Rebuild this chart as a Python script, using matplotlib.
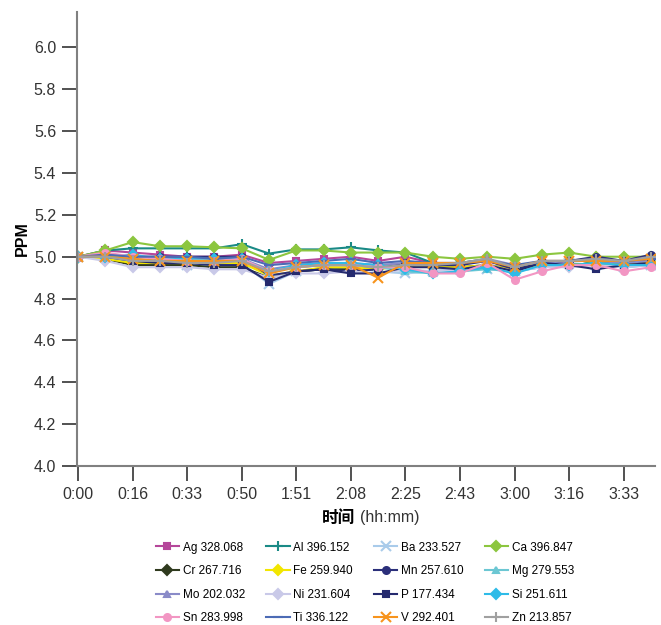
import matplotlib
matplotlib.use('Agg')
import matplotlib.pyplot as plt
import matplotlib.transforms as mtransforms

plt.rcParams['font.family'] = ['Liberation Sans', 'DejaVu Sans']

time_labels = ['0:00', '0:16', '0:33', '0:50', '1:51', '2:08', '2:25', '2:43',
               '3:00', '3:16', '3:33']

Ag = [5.00, 5.03, 5.02, 5.01, 5.00, 5.00, 5.01, 4.97, 4.98, 4.99, 5.00, 4.98,
      5.00, 4.97, 4.97, 4.98, 4.95, 4.97, 4.98, 4.98, 4.97, 4.98]
Al = [5.00, 5.03, 5.04, 5.04, 5.04, 5.04, 5.06, 5.015, 5.035, 5.035, 5.045, 5.03,
      5.02, 4.97, 4.97, 4.99, 4.94, 4.98, 4.95, 4.98, 4.97, 4.98]
Ba = [5.00, 5.00, 4.98, 4.97, 4.96, 4.96, 4.97, 4.87, 4.93, 4.94, 4.95, 4.93,
      4.92, 4.93, 4.95, 4.94, 4.93, 4.95, 4.97, 4.96, 4.95, 4.96]
Ca = [5.00, 5.03, 5.07, 5.05, 5.05, 5.045, 5.04, 4.985, 5.03, 5.03, 5.02, 5.02,
      5.02, 5.00, 4.99, 5.00, 4.99, 5.01, 5.02, 5.00, 5.00, 5.00]
Cr = [5.00, 4.99, 4.96, 4.96, 4.96, 4.95, 4.95, 4.90, 4.93, 4.94, 4.94, 4.95,
      4.96, 4.95, 4.95, 4.96, 4.94, 4.96, 4.96, 4.97, 4.96, 4.97]
Fe = [5.00, 4.99, 4.97, 4.97, 4.97, 4.97, 4.97, 4.91, 4.93, 4.95, 4.95, 4.94,
      4.96, 4.95, 4.95, 4.96, 4.94, 4.96, 4.96, 4.97, 4.96, 4.97]
Mn = [5.00, 5.01, 5.00, 5.00, 5.00, 5.00, 5.00, 4.91, 4.93, 4.94, 4.93, 4.94,
      4.97, 4.96, 4.96, 4.98, 4.94, 4.97, 4.98, 5.00, 4.98, 5.01]
Mg = [5.00, 5.00, 4.98, 4.98, 4.97, 4.98, 4.98, 4.93, 4.95, 4.96, 4.96, 4.95,
      4.93, 4.92, 4.93, 4.94, 4.93, 4.95, 4.96, 4.96, 4.95, 4.96]
Mo = [5.00, 5.00, 4.99, 4.98, 4.98, 4.98, 4.99, 4.94, 4.96, 4.97, 4.97, 4.96,
      4.97, 4.97, 4.97, 4.99, 4.96, 4.97, 4.98, 4.98, 4.97, 4.98]
Ni = [5.00, 4.98, 4.95, 4.95, 4.95, 4.94, 4.94, 4.90, 4.92, 4.92, 4.93, 4.92,
      4.94, 4.93, 4.94, 4.96, 4.93, 4.95, 4.95, 4.96, 4.95, 4.96]
P = [5.00, 5.00, 4.98, 4.97, 4.97, 4.96, 4.96, 4.88, 4.93, 4.94, 4.92, 4.92,
     4.95, 4.95, 4.94, 4.96, 4.93, 4.97, 4.96, 4.94, 4.96, 4.97]
Si = [5.00, 5.00, 5.01, 4.99, 4.99, 4.99, 4.99, 4.93, 4.96, 4.97, 4.97, 4.96,
      4.94, 4.92, 4.93, 4.95, 4.92, 4.96, 4.96, 4.97, 4.96, 4.96]
Sn = [5.00, 5.02, 5.00, 4.99, 4.98, 4.98, 4.99, 4.93, 4.95, 4.96, 4.96, 4.95,
      4.95, 4.92, 4.92, 4.97, 4.89, 4.93, 4.96, 4.96, 4.93, 4.95]
Ti = [5.00, 5.01, 5.00, 5.00, 5.00, 4.99, 5.00, 4.96, 4.97, 4.98, 4.99, 4.97,
      4.98, 4.97, 4.97, 4.98, 4.96, 4.98, 4.98, 4.99, 4.98, 4.99]
V = [5.00, 5.00, 4.99, 4.98, 4.98, 4.98, 4.98, 4.92, 4.95, 4.96, 4.96, 4.90,
     4.97, 4.97, 4.97, 4.98, 4.95, 4.98, 4.98, 4.98, 4.98, 4.99]
Zn = [5.00, 5.00, 4.98, 4.98, 4.97, 4.97, 4.98, 4.93, 4.95, 4.96, 4.96, 4.95,
      4.96, 4.96, 4.97, 4.99, 4.95, 4.98, 4.98, 4.99, 4.98, 5.00]

# name, values, colour, marker
series = [
    ('Ag 328.068', Ag, '#b5479a', 's'),
    ('Al 396.152', Al, '#1a8a86', '+'),
    ('Ba 233.527', Ba, '#a9cbea', 'x'),
    ('Ca 396.847', Ca, '#8cc63f', 'D'),
    ('Cr 267.716', Cr, '#2f3a1e', 'D'),
    ('Fe 259.940', Fe, '#f2e600', 'D'),
    ('Mn 257.610', Mn, '#2b2f7a', 'o'),
    ('Mg 279.553', Mg, '#6cc7d3', '^'),
    ('Mo 202.032', Mo, '#8a8bc8', '^'),
    ('Ni 231.604', Ni, '#c9c9e8', 'D'),
    ('P 177.434', P, '#252a6e', 's'),
    ('Si 251.611', Si, '#2ebbe8', 'D'),
    ('Sn 283.998', Sn, '#f296c3', 'o'),
    ('Ti 336.122', Ti, '#4c6bb5', '_'),
    ('V 292.401', V, '#f7941d', 'x'),
    ('Zn 213.857', Zn, '#a0a0a0', '+'),
]

fig = plt.figure(figsize=(6.61, 6.25), dpi=100)
ax = fig.add_axes([0.1165, 0.2544, 0.8745, 0.7266])

handles = []
for name, vals, col, mk in series:
    ms = 5 if mk in 'sDo^' else 7
    h, = ax.plot(range(len(vals)), vals, color=col, marker=mk, markersize=ms,
                 markeredgewidth=1.5, linewidth=1.5, label=name)
    handles.append(h)

ax.set_xlim(-0.04, 21.15)
ax.set_ylim(4.0, 6.17)
ax.set_yticks([4.0 + 0.2 * i for i in range(11)])
ax.set_yticklabels(['%.1f' % (4.0 + 0.2 * i) for i in range(11)], fontsize=11.5, color='#333333')
ax.set_xticks(range(0, 22, 2))
ax.set_xticklabels(time_labels, fontsize=11.5, color='#333333')

# y labels sit a little above their tick marks
up = mtransforms.ScaledTranslation(0, 6 / 100, fig.dpi_scale_trans)
for lbl in ax.get_yticklabels():
    lbl.set_transform(lbl.get_transform() + up)

for s in ['top', 'right']:
    ax.spines[s].set_visible(False)
for s in ['left', 'bottom']:
    ax.spines[s].set_color('#808080')
    ax.spines[s].set_linewidth(1.5)
ax.tick_params(axis='both', direction='out', length=11, width=1.2, color='#333333', pad=4)

ax.set_ylabel('PPM', fontsize=11.5, fontweight='bold', labelpad=3)
fig.text(0.537, 0.172, '时间', fontsize=12, fontweight='bold', ha='right', va='center',
         family=['Noto Sans CJK SC', 'DejaVu Sans'])
fig.text(0.545, 0.172, '(hh:mm)', fontsize=11.5, ha='left', va='center', color='#333333')

# legend is filled row by row in the picture
order = [i + 4 * r for i in range(4) for r in range(4)]
fig.legend([handles[k] for k in order], [series[k][0] for k in order],
           ncol=4, loc='lower left', bbox_to_anchor=(0.223, -0.012), frameon=False,
           fontsize=8.5, handlelength=2.0, columnspacing=1.78, labelspacing=0.98,
           handletextpad=0.3, borderpad=0.2)

fig.savefig('out.png', dpi=100)
